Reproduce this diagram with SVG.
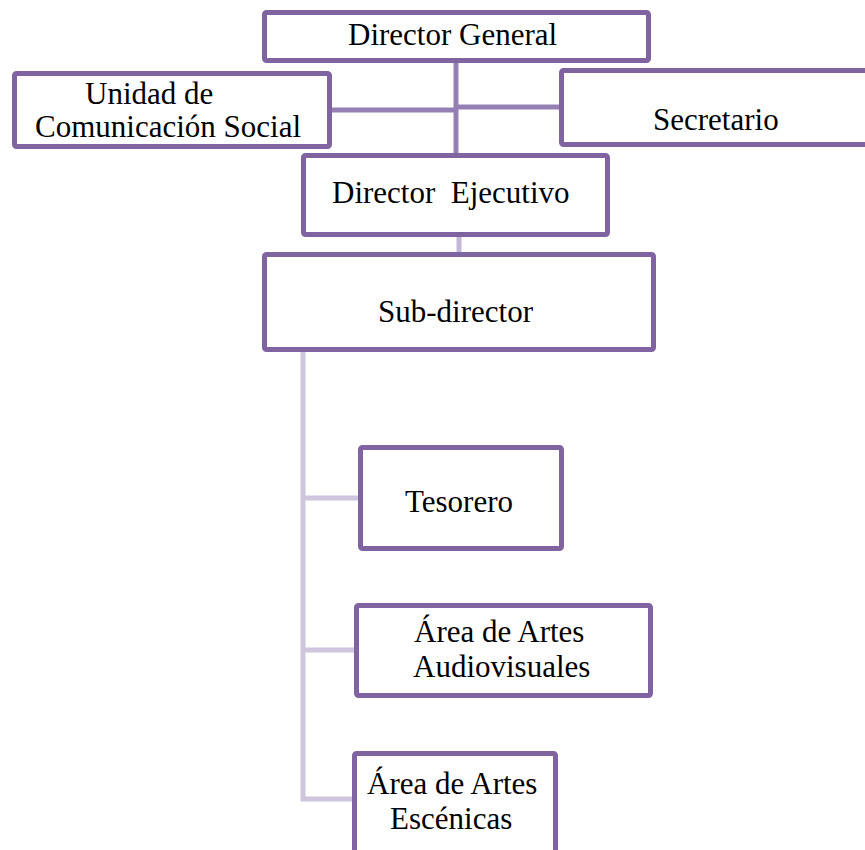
<svg xmlns="http://www.w3.org/2000/svg" width="865" height="850" viewBox="0 0 865 850">
  <style>
    .box { fill: #ffffff; stroke: #8064a2; stroke-width: 5; }
    .c1 { stroke: #9580b4; stroke-width: 5; fill: none; }
    .c2 { stroke: #c3b7d6; stroke-width: 5; fill: none; }
    .c3 { stroke: #cdc6dc; stroke-width: 5; fill: none; }
  </style>
  <rect width="865" height="850" fill="#ffffff"/>

  <!-- connectors -->
  <g id="connectors">
    <line class="c1" x1="456" y1="60" x2="456" y2="156"/>
    <line class="c1" x1="330" y1="110" x2="456" y2="110"/>
    <line class="c1" x1="456" y1="107" x2="561" y2="107"/>
    <line class="c2" x1="459" y1="234" x2="459" y2="256"/>
    <polyline class="c3" points="303,350 303,799 354,799"/>
    <line class="c3" x1="303" y1="498" x2="360" y2="498"/>
    <line class="c3" x1="303" y1="650" x2="356" y2="650"/>
  </g>

  <g id="director-general">
    <rect class="box" x="264.5" y="12.5" width="384" height="48" rx="2"/>
    <text x="348" y="45" font-family="Liberation Serif, serif" font-size="31">Director General</text>
  </g>

  <g id="comunicacion-social">
    <rect class="box" x="14.5" y="73.5" width="315" height="73" rx="2"/>
    <text x="85" y="104" font-family="Liberation Serif, serif" font-size="31">Unidad de</text>
    <text x="35" y="137" font-family="Liberation Serif, serif" font-size="31">Comunicación Social</text>
  </g>

  <g id="secretario">
    <rect class="box" x="561.5" y="70.5" width="310" height="74" rx="2"/>
    <text x="653" y="130" font-family="Liberation Serif, serif" font-size="31">Secretario</text>
  </g>

  <g id="director-ejecutivo">
    <rect class="box" x="303.5" y="155.5" width="304" height="79" rx="2"/>
    <text x="332" y="203" font-family="Liberation Serif, serif" font-size="31">Director&#160; Ejecutivo</text>
  </g>

  <g id="sub-director">
    <rect class="box" x="264.5" y="254.5" width="389" height="95" rx="2"/>
    <text x="378" y="322" font-family="Liberation Serif, serif" font-size="31">Sub-director</text>
  </g>

  <g id="tesorero">
    <rect class="box" x="360.5" y="447.5" width="201" height="101" rx="2"/>
    <text x="405" y="512" font-family="Liberation Serif, serif" font-size="31">Tesorero</text>
  </g>

  <g id="artes-audiovisuales">
    <rect class="box" x="356.5" y="605.5" width="294" height="90" rx="2"/>
    <text x="414" y="642" font-family="Liberation Serif, serif" font-size="31">Área de Artes</text>
    <text x="413" y="677" font-family="Liberation Serif, serif" font-size="31">Audiovisuales</text>
  </g>

  <g id="artes-escenicas">
    <rect class="box" x="354.5" y="753.5" width="201" height="110" rx="2"/>
    <text x="367" y="794" font-family="Liberation Serif, serif" font-size="31">Área de Artes</text>
    <text x="390" y="829" font-family="Liberation Serif, serif" font-size="31">Escénicas</text>
  </g>
</svg>
